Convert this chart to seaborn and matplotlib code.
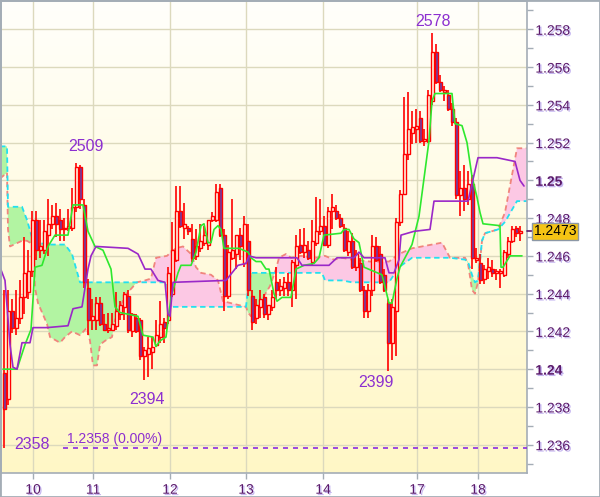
import matplotlib
matplotlib.use('Agg')
import matplotlib.patheffects as pe
import matplotlib.pyplot as plt
import numpy as np
import pandas as pd
import seaborn as sns
from matplotlib.colors import LinearSegmentedColormap
from matplotlib.patches import Rectangle
from matplotlib.ticker import MultipleLocator

# hourly candles, bar index 0..129
opens = [1.2398, 1.2384, 1.2431, 1.2422, 1.2427, 1.2438, 1.2441, 1.2452, 1.2479, 1.2463,
         1.2463, 1.2471, 1.2477, 1.2481, 1.2479, 1.2474, 1.2475, 1.2475, 1.2486, 1.2507,
         1.2487, 1.2443, 1.2426, 1.2426, 1.2435, 1.2424, 1.2421, 1.2421, 1.2423, 1.2429,
         1.2433, 1.2439, 1.2420, 1.2427, 1.2426, 1.2407, 1.2408, 1.2409, 1.2413, 1.2417,
         1.2425, 1.2426, 1.2440, 1.2458, 1.2484, 1.2475, 1.2475, 1.2469, 1.2460, 1.2464,
         1.2467, 1.2466, 1.2479, 1.2479, 1.2496, 1.2471, 1.2439, 1.2459, 1.2461, 1.2471,
         1.2456, 1.2468, 1.2439, 1.2427, 1.2433, 1.2438, 1.2429, 1.2433, 1.2446, 1.2442,
         1.2443, 1.2446, 1.2442, 1.2455, 1.2466, 1.2462, 1.2463, 1.2457, 1.2467, 1.2473,
         1.2476, 1.2466, 1.2484, 1.2484, 1.2480, 1.2475, 1.2462, 1.2468, 1.2454, 1.2456,
         1.2442, 1.2431, 1.2442, 1.2465, 1.2461, 1.2450, 1.2435, 1.2414, 1.2431, 1.2478,
         1.2493, 1.2514, 1.2525, 1.2527, 1.2533, 1.2521, 1.2521, 1.2542, 1.2568, 1.2552,
         1.2547, 1.2545, 1.2538, 1.2531, 1.2492, 1.2496, 1.2490, 1.2498, 1.2458, 1.2456,
         1.2448, 1.2452, 1.2453, 1.2451, 1.2451, 1.2450, 1.2461, 1.2468, 1.2475, 1.2472]
highs = [1.2442, 1.2442, 1.2437, 1.2442, 1.2447, 1.2470, 1.2463, 1.2484, 1.2484, 1.2479,
         1.2479, 1.2490, 1.2487, 1.2488, 1.2485, 1.2480, 1.2485, 1.2496, 1.2509, 1.2508,
         1.2490, 1.2448, 1.2437, 1.2438, 1.2438, 1.2429, 1.2430, 1.2430, 1.2441, 1.2436,
         1.2441, 1.2442, 1.2430, 1.2429, 1.2427, 1.2412, 1.2417, 1.2417, 1.2426, 1.2436,
         1.2427, 1.2454, 1.2478, 1.2497, 1.2497, 1.2488, 1.2476, 1.2477, 1.2474, 1.2477,
         1.2476, 1.2479, 1.2483, 1.2498, 1.2498, 1.2474, 1.2466, 1.2490, 1.2471, 1.2475,
         1.2481, 1.2477, 1.2442, 1.2437, 1.2442, 1.2440, 1.2434, 1.2442, 1.2454, 1.2448,
         1.2449, 1.2451, 1.2458, 1.2471, 1.2474, 1.2475, 1.2468, 1.2479, 1.2491, 1.2490,
         1.2481, 1.2486, 1.2493, 1.2487, 1.2482, 1.2477, 1.2473, 1.2472, 1.2463, 1.2459,
         1.2444, 1.2445, 1.2471, 1.2470, 1.2465, 1.2453, 1.2437, 1.2437, 1.2480, 1.2495,
         1.2544, 1.2547, 1.2537, 1.2538, 1.2537, 1.2527, 1.2548, 1.2578, 1.2572, 1.2556,
         1.2550, 1.2548, 1.2541, 1.2533, 1.2505, 1.2508, 1.2505, 1.2503, 1.2464, 1.2461,
         1.2455, 1.2459, 1.2458, 1.2453, 1.2453, 1.2463, 1.2470, 1.2476, 1.2476, 1.2476]
lows = [1.2358, 1.2381, 1.2419, 1.2418, 1.2424, 1.2429, 1.2437, 1.2449, 1.2458, 1.2459,
        1.2461, 1.2460, 1.2474, 1.2470, 1.2468, 1.2468, 1.2473, 1.2473, 1.2483, 1.2485,
        1.2443, 1.2418, 1.2421, 1.2421, 1.2423, 1.2420, 1.2419, 1.2420, 1.2421, 1.2426,
        1.2426, 1.2419, 1.2417, 1.2419, 1.2405, 1.2394, 1.2396, 1.2400, 1.2412, 1.2414,
        1.2414, 1.2424, 1.2438, 1.2457, 1.2475, 1.2469, 1.2471, 1.2457, 1.2458, 1.2462,
        1.2465, 1.2463, 1.2478, 1.2478, 1.2470, 1.2431, 1.2437, 1.2458, 1.2453, 1.2458,
        1.2454, 1.2439, 1.2421, 1.2424, 1.2427, 1.2427, 1.2426, 1.2431, 1.2437, 1.2439,
        1.2439, 1.2439, 1.2433, 1.2437, 1.2461, 1.2459, 1.2458, 1.2455, 1.2465, 1.2471,
        1.2465, 1.2464, 1.2474, 1.2479, 1.2475, 1.2462, 1.2460, 1.2453, 1.2452, 1.2441,
        1.2427, 1.2427, 1.2439, 1.2457, 1.2445, 1.2441, 1.2399, 1.2405, 1.2407, 1.2476,
        1.2492, 1.2511, 1.2519, 1.2520, 1.2520, 1.2518, 1.2520, 1.2540, 1.2551, 1.2547,
        1.2542, 1.2537, 1.2529, 1.2490, 1.2481, 1.2484, 1.2487, 1.2453, 1.2456, 1.2445,
        1.2445, 1.2448, 1.2449, 1.2447, 1.2443, 1.2449, 1.2459, 1.2467, 1.2470, 1.2468]
closes = [1.2379, 1.2431, 1.2422, 1.2427, 1.2438, 1.2451, 1.2452, 1.2479, 1.2463, 1.2465,
          1.2473, 1.2477, 1.2481, 1.2477, 1.2474, 1.2475, 1.2476, 1.2486, 1.2507, 1.2490,
          1.2446, 1.2426, 1.2428, 1.2435, 1.2424, 1.2421, 1.2422, 1.2424, 1.2431, 1.2434,
          1.2440, 1.2421, 1.2429, 1.2420, 1.2407, 1.2410, 1.2411, 1.2412, 1.2418, 1.2424,
          1.2422, 1.2451, 1.2463, 1.2484, 1.2476, 1.2477, 1.2473, 1.2459, 1.2465, 1.2468,
          1.2471, 1.2479, 1.2481, 1.2494, 1.2471, 1.2439, 1.2462, 1.2463, 1.2471, 1.2465,
          1.2477, 1.2442, 1.2425, 1.2434, 1.2437, 1.2429, 1.2434, 1.2438, 1.2442, 1.2444,
          1.2446, 1.2442, 1.2457, 1.2465, 1.2462, 1.2466, 1.2459, 1.2468, 1.2473, 1.2476,
          1.2466, 1.2484, 1.2486, 1.2480, 1.2476, 1.2463, 1.2468, 1.2454, 1.2461, 1.2442,
          1.2431, 1.2442, 1.2465, 1.2458, 1.2446, 1.2442, 1.2414, 1.2433, 1.2478, 1.2493,
          1.2514, 1.2527, 1.2528, 1.2529, 1.2521, 1.2522, 1.2545, 1.2568, 1.2552, 1.2548,
          1.2548, 1.2538, 1.2531, 1.2492, 1.2496, 1.2490, 1.2498, 1.2459, 1.2459, 1.2447,
          1.2453, 1.2454, 1.2451, 1.2452, 1.2452, 1.2462, 1.2468, 1.2474, 1.2472, 1.2473]

day_pos = [7.25, 22.25, 41.5, 60.5, 79.75, 103.25, 118.5]
day_labels = ['10', '11', '12', '13', '14', '17', '18']

# ichimoku cloud edges (senkou span A / B)
cloud_x = [-1.0, 0.75, 1.0, 1.5, 4.5, 5.75, 7.25, 7.75, 8.5, 10.75, 11.5, 14.0, 15.25, 17.0,
           19.0, 20.75, 21.5, 22.25, 23.25, 24.0, 25.25, 27.0, 27.75, 30.25, 33.25, 35.25,
           36.75, 38.0, 40.75, 41.25, 43.0, 44.75, 46.75, 48.0, 49.25, 51.75, 53.5, 54.75,
           60.5, 61.0, 61.75, 63.0, 64.5, 66.5, 68.0, 68.75, 70.5, 71.75, 74.25, 78.25, 79.5,
           80.25, 82.5, 84.5, 87.0, 91.5, 96.25, 98.75, 102.0, 109.5, 111.5, 115.25, 116.0,
           117.0, 117.75, 118.5, 119.5, 120.25, 123.5, 125.25, 128.25, 130.75]
span_a = [1.2501, 1.2504, 1.2474, 1.2465, 1.2468, 1.2468, 1.2466, 1.2443, 1.2435, 1.2424,
          1.2417, 1.2414, 1.2417, 1.2420, 1.2418, 1.2422, 1.2415, 1.2402, 1.2402, 1.2413,
          1.2415, 1.2417, 1.2426, 1.2439, 1.2446, 1.2447, 1.2448, 1.2459, 1.2460, 1.2461,
          1.2464, 1.2465, 1.2461, 1.2454, 1.2451, 1.2450, 1.2447, 1.2436, 1.2433, 1.2430,
          1.2428, 1.2430, 1.2437, 1.2444, 1.2453, 1.2459, 1.2461, 1.2459, 1.2460, 1.2459,
          1.2460, 1.2460, 1.2458, 1.2459, 1.2458, 1.2457, 1.2457, 1.2461, 1.2464, 1.2467,
          1.2459, 1.2459, 1.2456, 1.2442, 1.2440, 1.2446, 1.2468, 1.2472, 1.2474, 1.2483,
          1.2517, 1.2517]
span_b = [1.2518, 1.2518, 1.2486, 1.2486, 1.2486, 1.2479, 1.2468, 1.2467, 1.2467, 1.2466,
          1.2466, 1.2466, 1.2466, 1.2461, 1.2446, 1.2446, 1.2446, 1.2446, 1.2446, 1.2446,
          1.2446, 1.2446, 1.2446, 1.2446, 1.2446, 1.2446, 1.2446, 1.2446, 1.2446, 1.2433,
          1.2433, 1.2433, 1.2433, 1.2433, 1.2433, 1.2433, 1.2433, 1.2433, 1.2433, 1.2442,
          1.2451, 1.2451, 1.2451, 1.2451, 1.2451, 1.2451, 1.2451, 1.2451, 1.2451, 1.2451,
          1.2451, 1.2447, 1.2447, 1.2447, 1.2446, 1.2446, 1.2446, 1.2454, 1.2459, 1.2459,
          1.2459, 1.2458, 1.2457, 1.2450, 1.2446, 1.2447, 1.2468, 1.2472, 1.2474, 1.2478,
          1.2489, 1.2489]

# tenkan-sen (green) and kijun-sen (purple)
tenkan_x = [-0.25, 3.25, 5.25, 6.75, 7.25, 7.75, 9.5, 11.0, 12.75, 16.0, 17.25, 19.75, 21.0,
            22.75, 24.75, 26.75, 27.75, 29.0, 33.5, 34.75, 37.25, 38.0, 39.0, 40.5, 41.75,
            43.5, 44.25, 46.75, 48.0, 49.25, 50.0, 51.0, 51.75, 52.5, 53.5, 54.25, 55.0,
            58.75, 61.0, 61.75, 63.0, 64.25, 65.5, 66.25, 67.5, 68.25, 69.5, 71.75, 73.0,
            75.0, 77.5, 78.75, 80.0, 84.25, 85.0, 86.25, 87.5, 88.75, 90.0, 94.5, 96.25, 97.0,
            98.25, 99.0, 102.0, 103.75, 106.25, 107.0, 107.75, 112.0, 112.75, 114.5, 115.75,
            117.0, 118.25, 119.0, 119.75, 124.0, 124.25, 124.75, 126.5, 129.5]
tenkan_y = [1.2400, 1.2400, 1.2413, 1.2421, 1.2437, 1.2454, 1.2455, 1.2465, 1.2471, 1.2471,
            1.2487, 1.2487, 1.2473, 1.2465, 1.2463, 1.2453, 1.2433, 1.2430, 1.2428, 1.2418,
            1.2417, 1.2412, 1.2415, 1.2417, 1.2438, 1.2451, 1.2455, 1.2455, 1.2462, 1.2476,
            1.2477, 1.2467, 1.2467, 1.2474, 1.2476, 1.2474, 1.2464, 1.2464, 1.2462, 1.2459,
            1.2457, 1.2457, 1.2453, 1.2453, 1.2440, 1.2436, 1.2438, 1.2438, 1.2453, 1.2455,
            1.2456, 1.2459, 1.2471, 1.2472, 1.2474, 1.2474, 1.2469, 1.2467, 1.2454, 1.2450,
            1.2435, 1.2435, 1.2448, 1.2454, 1.2466, 1.2481, 1.2521, 1.2542, 1.2546, 1.2546,
            1.2530, 1.2529, 1.2520, 1.2502, 1.2491, 1.2483, 1.2477, 1.2476, 1.2454, 1.2454,
            1.2460, 1.2460]
kijun_x = [-1.0, 0.25, 1.5, 2.25, 3.25, 4.5, 6.5, 7.25, 10.75, 16.0, 17.25, 19.5, 21.0, 21.75,
           23.0, 31.0, 33.5, 35.25, 36.75, 38.5, 40.25, 41.0, 41.5, 42.25, 55.5, 58.5, 60.5,
           61.25, 63.0, 73.25, 74.5, 81.25, 83.25, 87.5, 88.75, 90.0, 95.25, 96.25, 97.5,
           98.75, 99.25, 102.5, 106.5, 107.5, 116.0, 118.5, 123.25, 127.75, 129.0, 130.0]
kijun_y = [1.2454, 1.2447, 1.2413, 1.2401, 1.2400, 1.2414, 1.2414, 1.2422, 1.2422, 1.2423,
           1.2432, 1.2433, 1.2453, 1.2460, 1.2465, 1.2464, 1.2461, 1.2453, 1.2453, 1.2447,
           1.2446, 1.2429, 1.2428, 1.2446, 1.2447, 1.2455, 1.2456, 1.2460, 1.2459, 1.2459,
           1.2455, 1.2455, 1.2459, 1.2459, 1.2462, 1.2459, 1.2459, 1.2451, 1.2451, 1.2458,
           1.2471, 1.2473, 1.2474, 1.2489, 1.2489, 1.2512, 1.2512, 1.2510, 1.2500, 1.2497]

# bars whose extreme gets a label
marked_highs = [18, 107]
marked_lows = [0, 35, 96]

sns.set_theme(style='white')
plt.rcParams['font.family'] = ['Liberation Sans', 'DejaVu Sans']

AXIS_TXT = '#5b1a6b'
MARK_TXT = '#8c2fd0'
FRAME = '#a4adb6'

fig = plt.figure(figsize=(6, 4.97), dpi=100)
fig.patch.set_facecolor('white')
ax = fig.add_axes([1 / 600, 24 / 497, 526 / 600, 472 / 497])

x_lo, x_hi = -0.75, 130.75
y_lo, y_hi = 1.2345, 1.2595

# pale yellow gradient background
bg = LinearSegmentedColormap.from_list('bg', ['#fffffb', '#fff7c6'])
ax.imshow(np.linspace(0, 1, 256).reshape(-1, 1), extent=[x_lo, x_hi, y_lo, y_hi],
          origin='upper', aspect='auto', cmap=bg, zorder=0)

# cloud
cx, a, b = np.array(cloud_x), np.array(span_a), np.array(span_b)
ax.fill_between(cx, a, b, where=b >= a, interpolate=True, color='#b2f4a2', lw=0, zorder=1)
ax.fill_between(cx, a, b, where=a >= b, interpolate=True, color='#fcc8e4', lw=0, zorder=1)
sns.lineplot(x=cloud_x, y=span_a, ax=ax, color='#f0857c', lw=1.3, linestyle=(0, (3, 2)),
             sort=False, estimator=None, zorder=2)
sns.lineplot(x=cloud_x, y=span_b, ax=ax, color='#22e0f0', lw=1.3, linestyle=(0, (3, 2)),
             sort=False, estimator=None, zorder=2)

# candles
df = pd.DataFrame({'open': opens, 'high': highs, 'low': lows, 'close': closes})
df['bar'] = np.arange(len(df))
up = df['close'] >= df['open']
body_lo = df[['open', 'close']].min(axis=1)
body_h = (df['close'] - df['open']).abs().clip(lower=0.00004)
ax.vlines(df['bar'], df['low'], df['high'], color='#ff0000', lw=1.2, zorder=4)
ax.bar(df['bar'][up], body_h[up], bottom=body_lo[up], width=0.75, color='#fffde8',
       edgecolor='#ff0000', lw=1, zorder=5)
ax.bar(df['bar'][~up], body_h[~up], bottom=body_lo[~up], width=0.75, color='#6b3fa8',
       edgecolor='#ff0000', lw=1, zorder=5)

sns.lineplot(x=tenkan_x, y=tenkan_y, ax=ax, color='#2ee82e', lw=1.2, sort=False,
             estimator=None, zorder=6)
sns.lineplot(x=kijun_x, y=kijun_y, ax=ax, color='#9a28c8', lw=1.2, sort=False,
             estimator=None, zorder=6)

# extreme labels (last four digits of the price)
high_off = {18: (10, 17), 107: (1, 12)}
low_off = {0: (28, 4), 35: (3, -19), 96: (-12, -11)}
for i in marked_highs:
    ax.annotate(f'{round(highs[i] * 1e4) % 10000}', (i, highs[i]), xytext=high_off[i],
                textcoords='offset pixels', ha='center', va='center', fontsize=11.5,
                color=MARK_TXT, zorder=8)
for i in marked_lows:
    ax.annotate(f'{round(lows[i] * 1e4) % 10000}', (i, lows[i]), xytext=low_off[i],
                textcoords='offset pixels', ha='center', va='center', fontsize=11.5,
                color=MARK_TXT, zorder=8)

low_val = min(lows)
ax.axhline(low_val, xmin=62 / 526, xmax=1, color='#8a2be2', lw=1.2, linestyle=(0, (3, 3)), zorder=7)
ax.annotate(f'{low_val:.4f} (0.00%)', (66 / 526, low_val), xycoords=('axes fraction', 'data'),
            xytext=(0, 2), textcoords='offset pixels', ha='left', va='bottom', fontsize=10,
            color=MARK_TXT, zorder=8)

# axes, ticks, grid
ax.set_xlim(x_lo, x_hi)
ax.set_ylim(y_lo, y_hi)
ax.yaxis.tick_right()
yt = [round(1.236 + 0.002 * k, 3) for k in range(12)]
ylab = [f'{v:.3f}'.rstrip('0') for v in yt]
ax.set_yticks(yt, ylab)
ax.yaxis.set_minor_locator(MultipleLocator(0.001))
ax.set_xticks(day_pos, day_labels)
ax.tick_params(axis='y', which='both', left=False, right=True, direction='out', color=FRAME,
               length=4, width=1, pad=2, labelsize=10, labelcolor=AXIS_TXT)
ax.tick_params(axis='x', bottom=True, direction='out', color=FRAME, length=4, width=1,
               pad=3, labelsize=10, labelcolor=AXIS_TXT)
ax.grid(True, which='major', color='#dcd9bd', lw=1)
ax.set_axisbelow(True)
for s in ax.spines.values():
    s.set_visible(True)
    s.set_color(FRAME)
    s.set_linewidth(1.2)

shadow = [pe.withSimplePatchShadow(offset=(1, -1), shadow_rgbFace='#c4b4f0', alpha=1)]
for lbl in ax.get_yticklabels():
    lbl.set_path_effects(shadow)
    if len(lbl.get_text()) == 4:
        lbl.set_fontweight('bold')
for lbl in ax.get_xticklabels():
    lbl.set_path_effects(shadow)

# current price box
last = closes[-1]
ax.plot([1, 1.01], [last, last], transform=ax.get_yaxis_transform(), clip_on=False,
        color=AXIS_TXT, lw=1.2, zorder=9)
ax.annotate(f'{last:.4f}', (1, last), xycoords=('axes fraction', 'data'), xytext=(7, 0),
            textcoords='offset pixels', ha='left', va='center', fontsize=10, color='black',
            bbox=dict(boxstyle='square,pad=0.12', fc='#f5c414', ec='#8c98a6', lw=1),
            annotation_clip=False, zorder=10)

fig.patches.append(Rectangle((0, 0), 1, 1, transform=fig.transFigure, fill=False,
                             ec=FRAME, lw=2))
fig.savefig('out.png', dpi=100)
